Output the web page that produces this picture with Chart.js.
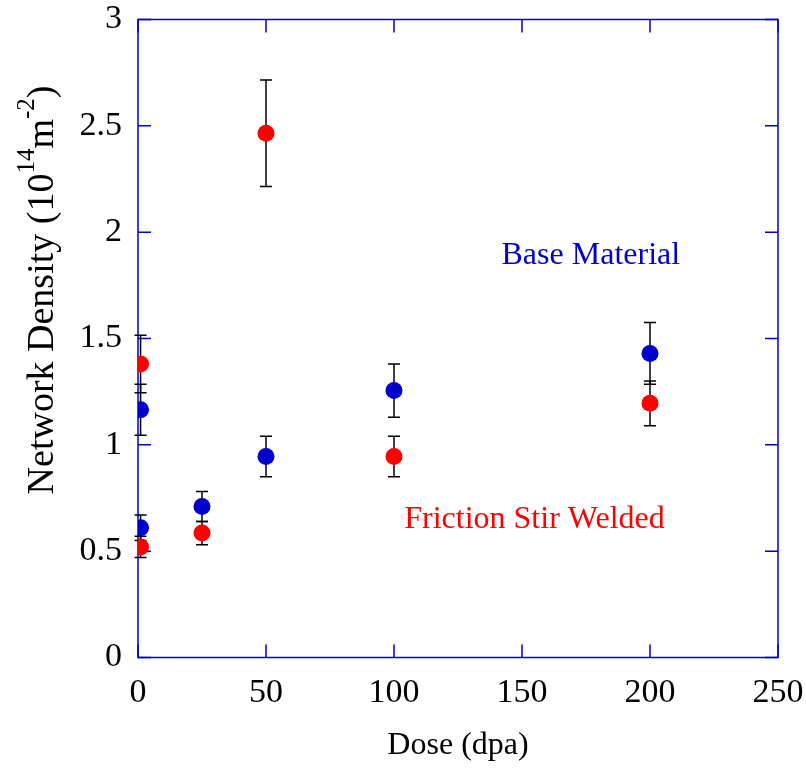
<!DOCTYPE html>
<html>
<head>
<meta charset="utf-8">
<script src="https://cdn.jsdelivr.net/npm/chart.js@4/dist/chart.umd.min.js"></script>
<style>
  html, body { margin: 0; padding: 0; background: #fff; }
  #wrap { width: 806px; height: 773px; }
</style>
</head>
<body>
<div id="wrap"><canvas id="myChart" width="806" height="773"></canvas></div>
<script>
// Data
const baseDose = [1, 1, 25, 50, 100, 200];
const baseDensity = [0.61, 1.165, 0.71, 0.945, 1.255, 1.43];
const baseError = [0.06, 0.12, 0.07, 0.095, 0.125, 0.145];

const fswDose = [1, 1, 25, 50, 100, 200];
const fswDensity = [0.52, 1.38, 0.585, 2.465, 0.945, 1.195];
const fswError = [0.05, 0.135, 0.055, 0.25, 0.095, 0.105];

const xTicks = [0, 50, 100, 150, 200, 250];
const yTicks = [0, 0.5, 1, 1.5, 2, 2.5, 3];

const BLUE = "#0000cc";
const RED = "#ff0000";
const SERIF = "'Liberation Serif', 'Times New Roman', serif";

function toPoints(xs, ys, errs) {
  return xs.map((x, i) => ({ x: x, y: ys[i], err: errs[i] }));
}

// box round the plot with inward ticks on all four sides
const framePlugin = {
  id: "frame",
  beforeDatasetsDraw(chart) {
    const { ctx, chartArea: a, scales } = chart;
    const len = 13;
    ctx.save();
    ctx.strokeStyle = BLUE;
    ctx.lineWidth = 1.5;
    ctx.strokeRect(a.left, a.top, a.right - a.left, a.bottom - a.top);
    ctx.beginPath();
    xTicks.forEach(v => {
      const px = scales.x.getPixelForValue(v);
      ctx.moveTo(px, a.bottom); ctx.lineTo(px, a.bottom - len);
      ctx.moveTo(px, a.top); ctx.lineTo(px, a.top + len);
    });
    yTicks.forEach(v => {
      const py = scales.y.getPixelForValue(v);
      ctx.moveTo(a.left, py); ctx.lineTo(a.left + len, py);
      ctx.moveTo(a.right, py); ctx.lineTo(a.right - len, py);
    });
    ctx.stroke();
    ctx.restore();
  }
};

// vertical error bars with small caps, drawn under the markers
const errorBarPlugin = {
  id: "errorBars",
  beforeDatasetsDraw(chart) {
    const { ctx, scales } = chart;
    const cap = 6;
    ctx.save();
    ctx.strokeStyle = "#000";
    ctx.lineWidth = 1.5;
    chart.data.datasets.forEach(ds => {
      ds.data.forEach(p => {
        const px = scales.x.getPixelForValue(p.x);
        const top = scales.y.getPixelForValue(p.y + p.err);
        const bot = scales.y.getPixelForValue(p.y - p.err);
        ctx.beginPath();
        ctx.moveTo(px, top); ctx.lineTo(px, bot);
        ctx.moveTo(px - cap, top); ctx.lineTo(px + cap, top);
        ctx.moveTo(px - cap, bot); ctx.lineTo(px + cap, bot);
        ctx.stroke();
      });
    });
    ctx.restore();
  }
};

// series labels inside the plot and y title with superscripts
const textPlugin = {
  id: "texts",
  afterDraw(chart) {
    const { ctx, scales } = chart;
    ctx.save();
    ctx.textBaseline = "alphabetic";
    ctx.textAlign = "left";
    ctx.font = "32px " + SERIF;
    ctx.fillStyle = BLUE;
    ctx.fillText("Base Material", scales.x.getPixelForValue(142), scales.y.getPixelForValue(1.85));
    ctx.fillStyle = RED;
    ctx.fillText("Friction Stir Welded", scales.x.getPixelForValue(104), scales.y.getPixelForValue(0.61));

    // y axis title
    const big = "38px " + SERIF;
    const small = "25px " + SERIF;
    const parts = [
      { t: "Network Density (10", f: big, dy: 0 },
      { t: "14", f: small, dy: -19 },
      { t: "m", f: big, dy: 0 },
      { t: "-2", f: small, dy: -19 },
      { t: ")", f: big, dy: 0 }
    ];
    let total = 0;
    parts.forEach(p => { ctx.font = p.f; p.w = ctx.measureText(p.t).width; total += p.w; });
    ctx.translate(53, 290);
    ctx.rotate(-Math.PI / 2);
    ctx.fillStyle = "#000";
    let x = -total / 2;
    parts.forEach(p => {
      ctx.font = p.f;
      ctx.fillText(p.t, x, p.dy);
      x += p.w;
    });
    ctx.restore();
  }
};

const ctx = document.getElementById("myChart").getContext("2d");

const data = {
  datasets: [
    {
      label: "Base Material",
      data: toPoints(baseDose, baseDensity, baseError),
      backgroundColor: BLUE,
      borderColor: BLUE,
      pointRadius: 8.5,
      pointBorderWidth: 0
    },
    {
      label: "Friction Stir Welded",
      data: toPoints(fswDose, fswDensity, fswError),
      backgroundColor: RED,
      borderColor: RED,
      pointRadius: 8.5,
      pointBorderWidth: 0
    }
  ]
};

const options = {
  responsive: false,
  animation: false,
  layout: { padding: { top: 19.5, right: 28, left: 0, bottom: 0 } },
  plugins: {
    legend: { display: false },
    tooltip: { enabled: false }
  },
  scales: {
    x: {
      type: "linear",
      min: 0,
      max: 250,
      afterBuildTicks: s => { s.ticks = xTicks.map(v => ({ value: v })); },
      afterFit: s => { s.height = 115.5; s.paddingLeft = 0; s.paddingRight = 0; },
      grid: { display: false, drawTicks: false },
      border: { display: false },
      ticks: { color: "#000", font: { family: SERIF, size: 34 }, padding: 15, maxRotation: 0,
               callback: v => String(v) },
      title: {
        display: true,
        text: "Dose (dpa)",
        color: "#000",
        font: { family: SERIF, size: 32 },
        padding: { top: 0, bottom: 8 }
      }
    },
    y: {
      type: "linear",
      min: 0,
      max: 3,
      afterBuildTicks: s => { s.ticks = yTicks.map(v => ({ value: v })); },
      afterFit: s => { s.width = 138; s.paddingTop = 0; s.paddingBottom = 0; },
      grid: { display: false, drawTicks: false },
      border: { display: false },
      ticks: { color: "#000", font: { family: SERIF, size: 34 }, padding: 16,
               callback: v => String(v) }
    }
  }
};

const myChart = new Chart(ctx, {
  type: "scatter",
  data: data,
  options: options,
  plugins: [framePlugin, errorBarPlugin, textPlugin]
});
</script>
</body>
</html>
